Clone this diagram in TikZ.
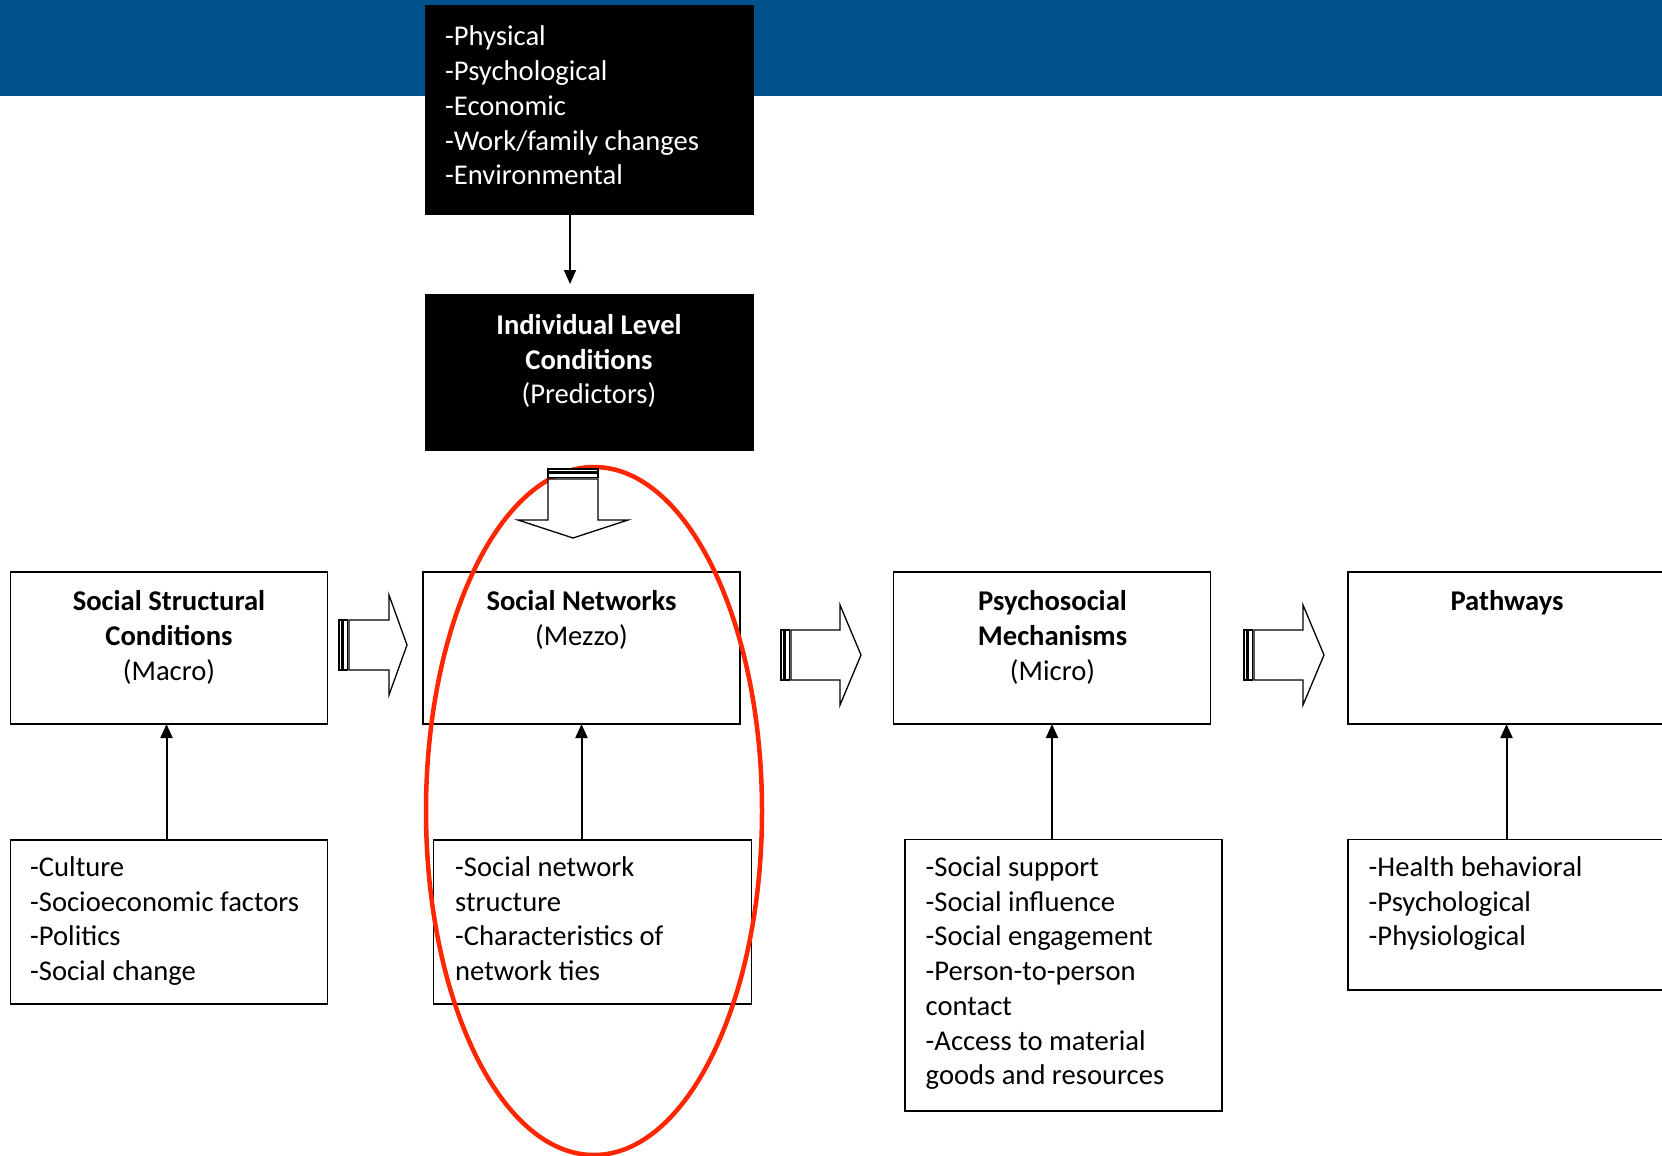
\documentclass[tikz,border=0pt]{standalone}
\usepackage{fontspec}
\setmainfont{Carlito}
\usetikzlibrary{arrows.meta}
\definecolor{bandblue}{RGB}{0,81,138}
\definecolor{ovalred}{RGB}{255,38,0}
\begin{document}
\begin{tikzpicture}[x=1pt,y=-1pt,
  box/.style={draw=black,line width=1.6pt,inner sep=0pt,outer sep=0pt,fill=white},
  blackbox/.style={draw=black,fill=black,inner sep=0pt,outer sep=0pt},
  txt/.style={inner sep=0pt,font=\fontsize{28.6}{34.7}\selectfont,anchor=north west,align=left},
  ctxt/.style={inner sep=0pt,font=\fontsize{28.6}{34.7}\selectfont,anchor=north,align=center},
  conn/.style={line width=2pt,-{Triangle[length=14pt,width=12pt]}},
  blockln/.style={draw=black,line width=1.3pt,fill=white},
  pics/striparrow/.style n args={3}{code={
    \draw[blockln] (0,-25) rectangle (2.5,25);
    \draw[blockln] (4,-25) rectangle (8.5,25);
    \draw[blockln] (10,-25) -- (#1,-25) -- (#1,-#3) -- ({#1+#2},0) -- (#1,#3) -- (#1,25) -- (10,25) -- cycle;
  }}]
\useasboundingbox (0,0) rectangle (1662,1156);
% header band
\fill[bandblue] (0,0) rectangle (1662,96);
% top black boxes
\node[blackbox,minimum width=328pt,minimum height=209pt] (topbox) at (589,109.5) {};
\node[txt,text=white] (toptxt) at (445,21.5) {\strut -Physical\\-Psychological\\-Economic\\-Work/family changes\\-Environmental};
\node[blackbox,minimum width=328pt,minimum height=156pt] (indiv) at (589,372) {};
\node[ctxt,text=white] (indivtxt) at (589,310) {\strut\textbf{Individual Level}\\\textbf{Conditions}\\(Predictors)};
\draw[conn,line width=1.6pt,shorten >=10pt] ([xshift=-19pt]topbox.south) -- ([xshift=-19pt]indiv.north);
% main row boxes
\node[box,minimum width=317pt,minimum height=152pt] (ssc) at (169,648) {};
\node[box,minimum width=317pt,minimum height=152pt] (sn) at (581.5,648) {};
\node[box,minimum width=317pt,minimum height=152pt] (pm) at (1052,648) {};
\node[box,minimum width=317pt,minimum height=152pt] (pw) at (1506.5,648) {};
\node[ctxt] (ssctxt) at (169,586.5) {\strut\textbf{Social Structural}\\\textbf{Conditions}\\(Macro)};
\node[ctxt] (sntxt) at (581.5,586.5) {\strut\textbf{Social Networks}\\(Mezzo)};
\node[ctxt] (pmtxt) at (1052.5,586.5) {\strut\textbf{Psychosocial}\\\textbf{Mechanisms}\\(Micro)};
\node[ctxt] (pwtxt) at (1507,586.5) {\strut\textbf{Pathways}};
% bottom boxes
\node[box,minimum width=317pt,minimum height=164.5pt] (b1) at (169,922) {};
\node[box,minimum width=318pt,minimum height=164.5pt] (b2) at (592.5,922) {};
\node[box,minimum width=317pt,minimum height=271.5pt] (b3) at (1063.5,975.25) {};
\node[box,minimum width=317pt,minimum height=150.5pt] (b4) at (1506.5,914.75) {};
\node[txt] (b1txt) at (30,852) {\strut -Culture\\-Socioeconomic factors\\-Politics\\-Social change};
\node[txt] (b2txt) at (455,852) {\strut -Social network\\structure\\-Characteristics of\\network ties};
\node[txt] (b3txt) at (925.5,852) {\strut -Social support\\-Social influence\\-Social engagement\\-Person-to-person\\contact\\-Access to material\\goods and resources};
\node[txt] (b4txt) at (1368.5,852) {\strut -Health behavioral\\-Psychological\\-Physiological};
% vertical connectors
\draw[conn] ([xshift=-2.5pt]b1.north) -- ([xshift=-2.5pt]ssc.south);
\draw[conn] (b2.north -| sn.south) -- (sn.south);
\draw[conn] (b3.north -| pm.south) -- (pm.south);
\draw[conn] (b4.north) -- (pw.south);
% red oval
\draw[ovalred,line width=4.5pt] (594,811) ellipse [x radius=168, y radius=344];
% block arrows
\pic at (339,645) {striparrow={50}{18}{50}};
\pic at (781,655) {striparrow={59}{21}{50}};
\pic at (1244,655) {striparrow={59}{21}{50}};
\pic[rotate=-90] at (573,469) {striparrow={51}{18}{55}};
\end{tikzpicture}
\end{document}
